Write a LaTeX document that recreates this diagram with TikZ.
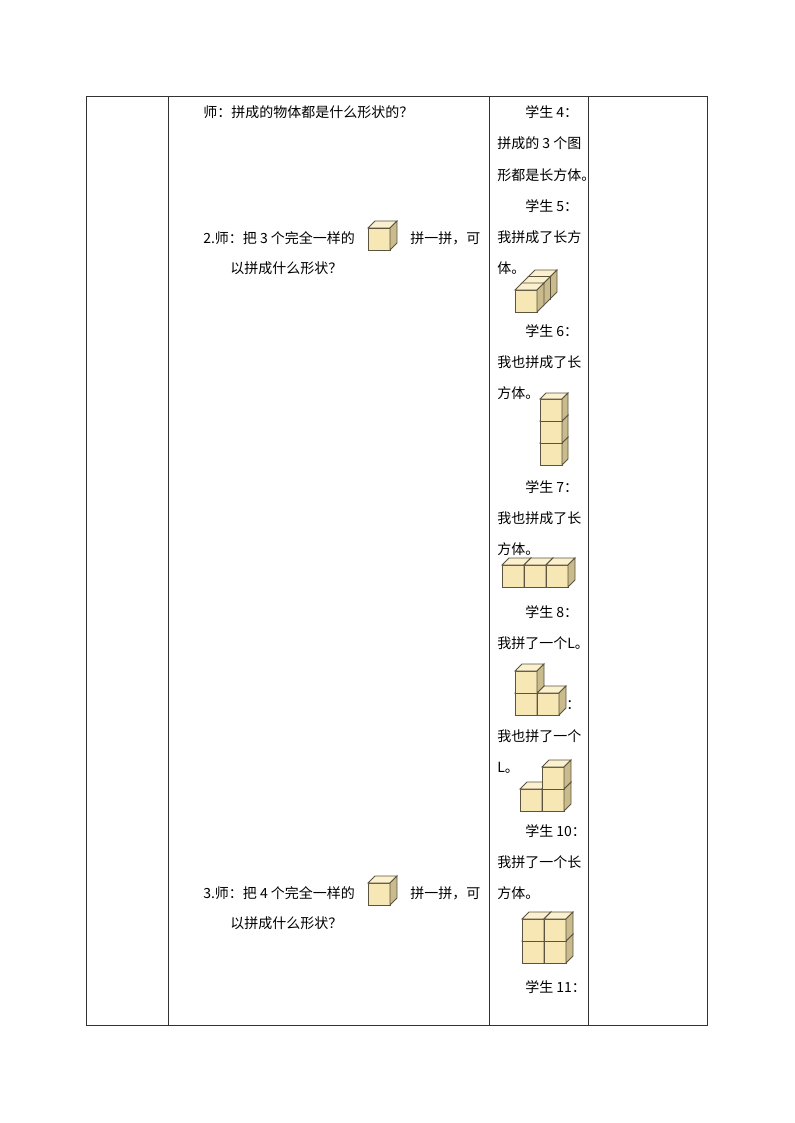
\documentclass[tikz,border=0pt]{standalone}
\usepackage{fontspec}
\setmainfont{Noto Sans CJK SC}
\begin{document}
\begin{tikzpicture}[x=0.75pt,y=-0.75pt,
  txt/.style={anchor=west,inner sep=0pt,font=\fontsize{10.5}{12}\selectfont},
  grid/.style={line width=0.6pt,draw=black!80}]
\definecolor{cfront}{HTML}{F6E7B5}
\definecolor{ctop}{HTML}{FBF1CF}
\definecolor{cside}{HTML}{C9BB8C}
\definecolor{cline}{HTML}{5A5440}
\newcommand{\mycube}[4]{% x y (front bottom-left), size, depth
  \filldraw[fill=cfront,draw=cline,line width=0.6pt] (#1,#2) rectangle ++(#3,-#3);
  \filldraw[fill=ctop,draw=cline,line width=0.6pt] (#1,#2-#3) -- ++(#4,-#4) -- ++(#3,0) -- ++(-#4,#4) -- cycle;
  \filldraw[fill=cside,draw=cline,line width=0.6pt] (#1+#3,#2) -- ++(#4,-#4) -- ++(0,-#3) -- ++(-#4,#4) -- cycle;}
\useasboundingbox (0,0) rectangle (794,1123);
\draw[grid] (86,96) rectangle (707,1025);
\draw[grid] (168,96) -- (168,1025) (489,96) -- (489,1025) (588,96) -- (588,1025);
% left text
\node[txt] (t1) at (203,112) {师：拼成的物体都是什么形状的？};
\node[txt] (t2) at (203,238) {2.师：把 3 个完全一样的};
\mycube{368}{250}{22}{7}
\node[txt] (t3) at (410,238) {拼一拼，可};
\node[txt] (t4) at (230,268) {以拼成什么形状？};
\node[txt] (t5) at (203,893) {3.师：把 4 个完全一样的};
\mycube{368}{905}{22}{7}
\node[txt] (t6) at (410,893) {拼一拼，可};
\node[txt] (t7) at (230,923) {以拼成什么形状？};
% right text
\node[txt] (r1) at (525,112) {学生 4：};
\node[txt] (r2) at (497,143) {拼成的 3 个图};
\node[txt] (r3) at (497,175) {形都是长方体。};
\node[txt] (r4) at (525,206) {学生 5：};
\node[txt] (r5) at (497,237) {我拼成了长方};
\node[txt] (r6) at (497,268) {体。};
\node[txt] (r7) at (525,331) {学生 6：};
\node[txt] (r8) at (497,362) {我也拼成了长};
\node[txt] (r9) at (497,393) {方体。};
\node[txt] (r10) at (525,487) {学生 7：};
\node[txt] (r11) at (497,518) {我也拼成了长};
\node[txt] (r12) at (497,549) {方体。};
\node[txt] (r13) at (525,612) {学生 8：};
\node[txt] (r14) at (497,643) {我拼了一个L。};
\node[txt] (r15) at (566,705) {：};
\node[txt] (r16) at (497,736) {我也拼了一个};
\node[txt] (r17) at (497,768) {L。};
\node[txt] (r18) at (525,831) {学生 10：};
\node[txt] (r19) at (497,862) {我拼了一个长};
\node[txt] (r20) at (497,893) {方体。};
\node[txt] (r21) at (525,987) {学生 11：};
% student 5: 3 deep
\mycube{528}{299}{22}{7}
\mycube{521.5}{305.5}{22}{7}
\mycube{515}{312}{22}{7}
% student 6: stack of 3
\mycube{540}{465}{22}{6}
\mycube{540}{443}{22}{6}
\mycube{540}{421}{22}{6}
% student 7: row of 3
\mycube{502}{587}{22}{7}
\mycube{524}{587}{22}{7}
\mycube{546}{587}{22}{7}
% student 8: L
\mycube{515}{715}{22}{7}
\mycube{537}{715}{22}{7}
\mycube{515}{693}{22}{7}
% student 9: mirrored L
\mycube{520}{811}{22}{7}
\mycube{542}{811}{22}{7}
\mycube{542}{789}{22}{7}
% student 10: 2x2
\mycube{522}{963}{22}{7}
\mycube{544}{963}{22}{7}
\mycube{522}{941}{22}{7}
\mycube{544}{941}{22}{7}
\end{tikzpicture}
\end{document}
